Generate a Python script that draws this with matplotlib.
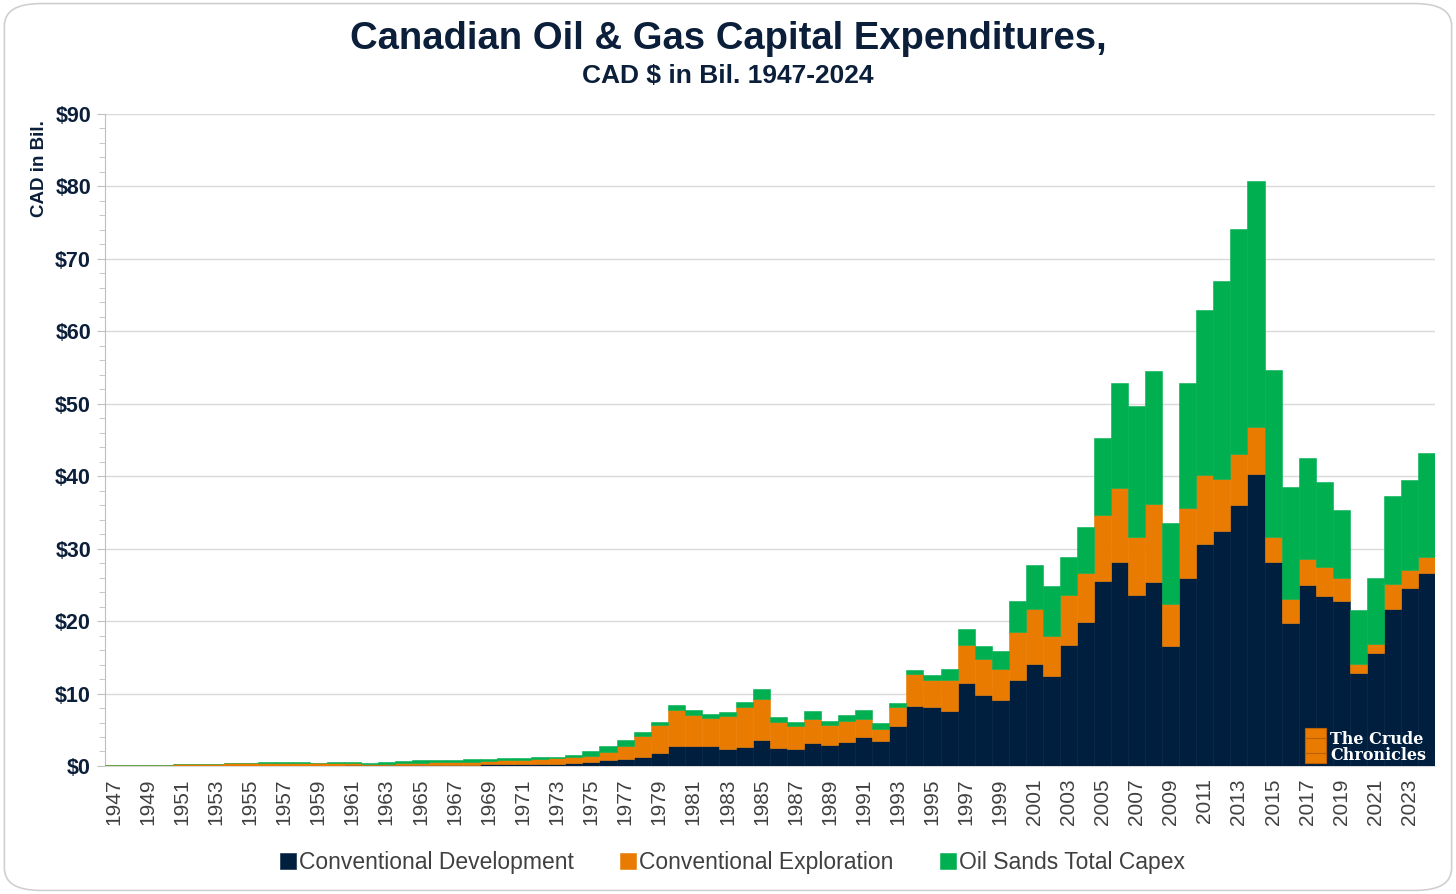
import numpy as np
import matplotlib.pyplot as plt
from matplotlib.patches import FancyBboxPatch, Rectangle
from matplotlib.ticker import MultipleLocator, FuncFormatter

plt.rcParams['font.family'] = ['Liberation Sans', 'DejaVu Sans']

years = list(range(1947, 2025))

# CAD $ bil.
dev = [0, 0, 0, 0, 0, 0, 0, 0, 0.02, 0.05,
       0.05, 0.05, 0.05, 0.05, 0.08, 0.10, 0.10, 0.10, 0.12, 0.15,
       0.15, 0.12, 0.25, 0.28, 0.28, 0.25, 0.25, 0.46, 0.60, 0.83,
       0.93, 1.30, 1.85, 2.82, 2.69, 2.78, 2.31, 2.59, 3.60, 2.55,
       2.36, 3.24, 2.92, 3.29, 3.98, 3.50, 5.55, 8.30, 8.10, 7.60,
       11.4, 9.8, 9.1, 11.8, 14.1, 12.4, 16.7, 19.9, 25.5, 28.2,
       23.6, 25.4, 16.6, 25.9, 30.6, 32.4, 36.0, 40.3, 28.1, 19.8,
       25.0, 23.4, 22.8, 12.9, 15.6, 21.7, 24.5, 26.6]
expl = [0.08, 0.08, 0.12, 0.12, 0.22, 0.25, 0.25, 0.35, 0.38, 0.37,
        0.37, 0.35, 0.33, 0.35, 0.32, 0.22, 0.22, 0.30, 0.36, 0.40,
        0.40, 0.48, 0.45, 0.52, 0.60, 0.72, 0.81, 0.79, 0.84, 1.16,
        1.89, 2.77, 3.80, 4.96, 4.30, 3.84, 4.54, 5.51, 5.70, 3.51,
        3.10, 3.29, 2.73, 2.87, 2.55, 1.60, 2.65, 4.40, 3.80, 4.30,
        5.3, 4.9, 4.3, 6.7, 7.6, 5.5, 6.9, 6.7, 9.2, 10.2,
        8.0, 10.8, 5.7, 9.7, 9.6, 7.2, 7.1, 6.5, 3.5, 3.2,
        3.6, 4.0, 3.1, 1.2, 1.2, 3.4, 2.5, 2.2]
sands = [0, 0, 0, 0, 0, 0, 0, 0, 0.05, 0.13,
         0.13, 0.15, 0.10, 0.15, 0.15, 0.16, 0.23, 0.30, 0.32, 0.30,
         0.33, 0.32, 0.25, 0.25, 0.22, 0.23, 0.24, 0.28, 0.56, 0.79,
         0.78, 0.56, 0.45, 0.60, 0.74, 0.56, 0.60, 0.70, 1.35, 0.70,
         0.64, 1.02, 0.55, 0.88, 1.25, 0.85, 0.55, 0.50, 0.70, 1.50,
         2.2, 1.8, 2.5, 4.3, 6.0, 6.9, 5.2, 6.4, 10.6, 14.5,
         18.1, 18.3, 11.3, 17.3, 22.8, 27.4, 31.0, 34.0, 23.0, 15.5,
         13.9, 11.8, 9.4, 7.4, 9.1, 12.1, 12.5, 14.4]

labels = ["Conventional Development", "Conventional Exploration", "Oil Sands Total Capex"]
colors = ["#001F3F", "#E97C00", "#00B050"]

navy = "#0B1F3A"

fig = plt.figure(figsize=(14.56, 8.94), dpi=100)
fig.patches.append(FancyBboxPatch((0.003, 0.004), 0.994, 0.992,
                                  boxstyle="round,pad=0,rounding_size=0.025",
                                  transform=fig.transFigure, facecolor='white',
                                  edgecolor='#D0D0D0', linewidth=1.2, zorder=-10))

ax = fig.add_axes([0.0721, 0.1432, 0.9135, 0.7293])
x = np.arange(len(years))
dev = np.array(dev)
expl = np.array(expl)
sands = np.array(sands)

ax.bar(x, dev, width=1.0, color=colors[0], edgecolor=colors[0], linewidth=0.4, label=labels[0], zorder=3)
ax.bar(x, expl, width=1.0, bottom=dev, color=colors[1], edgecolor=colors[1], linewidth=0.4, label=labels[1], zorder=3)
ax.bar(x, sands, width=1.0, bottom=dev + expl, color=colors[2], edgecolor=colors[2], linewidth=0.4, label=labels[2], zorder=3)

ax.set_xlim(-0.5, len(years) - 0.5)
ax.set_ylim(0, 90)
ax.yaxis.set_major_locator(MultipleLocator(10))
ax.yaxis.set_minor_locator(MultipleLocator(2))
ax.yaxis.set_major_formatter(FuncFormatter(lambda v, p: f"${v:.0f}"))
ax.grid(axis='y', which='major', color='#D9D9D9', linewidth=1.0, zorder=0)

ax.set_xticks(x[::2])
ax.set_xticklabels([str(y) for y in years[::2]], rotation=90, fontsize=15, color='#404040')
ax.tick_params(axis='x', length=0, pad=9)
ax.tick_params(axis='y', which='major', length=6, color='#BFBFBF', labelsize=15.5, labelcolor=navy, pad=4)
ax.tick_params(axis='y', which='minor', length=4, color='#BFBFBF')
for lbl in ax.get_yticklabels():
    lbl.set_fontweight('bold')

for s in ['top', 'right']:
    ax.spines[s].set_visible(False)
ax.spines['left'].set_color('#BFBFBF')
ax.spines['bottom'].set_color('#D9D9D9')

ax.set_ylabel("CAD in Bil.", fontsize=13.5, fontweight='bold', color=navy)
ax.yaxis.set_label_coords(-0.043, 0.916)

fig.text(0.5, 0.956, "Canadian Oil & Gas Capital Expenditures,", ha='center', va='center',
         fontsize=27.5, fontweight='bold', color=navy)
fig.text(0.5, 0.915, "CAD $ in Bil. 1947-2024", ha='center', va='center',
         fontsize=19, fontweight='bold', color=navy)

fig.legend(loc='center', bbox_to_anchor=(0.503, 0.035), ncol=3, frameon=False,
           fontsize=16.5, handlelength=0.7, handleheight=0.7, handletextpad=0.15,
           columnspacing=2.0, labelcolor='#404040')

# logo
fig.patches.append(Rectangle((0.8965, 0.146), 0.0145, 0.040, transform=fig.transFigure,
                             facecolor='#E97C00', edgecolor='#B85F00', linewidth=0.8, zorder=5))
for hy in (0.158, 0.174):
    fig.lines.append(plt.Line2D([0.8965, 0.911], [hy, hy], transform=fig.transFigure,
                                color='#B85F00', linewidth=0.8, zorder=6))
fig.text(0.9135, 0.173, "The Crude", fontsize=11.5, fontweight='bold', family='DejaVu Serif',
         color='white', ha='left', va='center', zorder=6)
fig.text(0.9135, 0.155, "Chronicles", fontsize=11.5, fontweight='bold', family='DejaVu Serif',
         color='white', ha='left', va='center', zorder=6)

fig.savefig("out.png", dpi=100)
